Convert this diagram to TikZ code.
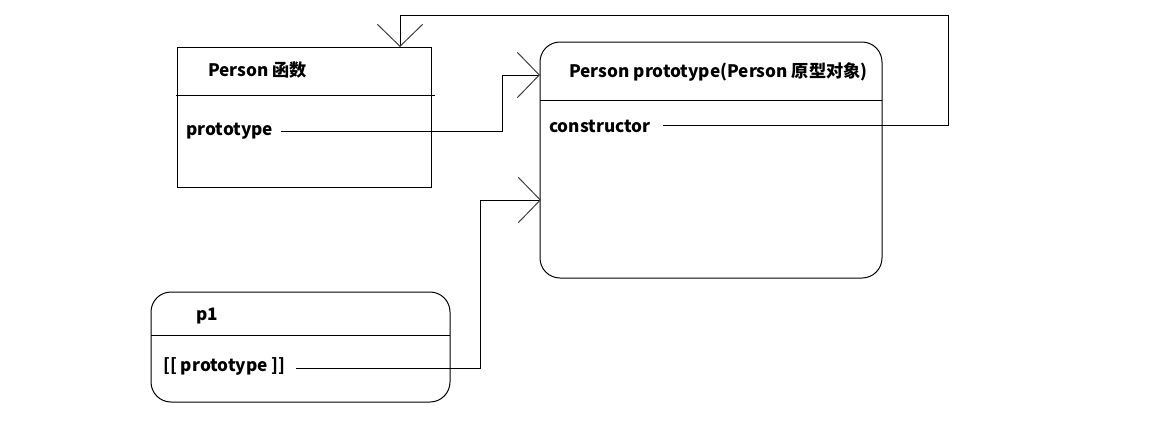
\documentclass[tikz,border=0pt]{standalone}
\usepackage{fontspec}
\setmainfont{Noto Sans CJK SC}
\usetikzlibrary{arrows.meta}
\tikzset{
  box/.style={draw, line width=0.75pt, inner sep=0pt},
  lbl/.style={anchor=west, inner sep=0pt, font=\fontsize{12.9}{15}\selectfont\bfseries},
  conn/.style={line width=0.75pt, -{Straight Barb[length=16.5pt, width=34pt, line width=0.75pt, color=black!75]}},
  sep/.style={line width=0.75pt}
}
\begin{document}
\begin{tikzpicture}[x=0.75pt, y=-0.75pt]
\useasboundingbox[fill=white] (0,0) rectangle (1158,444);
% boxes
\node[box, minimum width=190.5pt, minimum height=105pt] (pf) at (304,117) {};
\node[box, rounded corners=15pt, minimum width=256.5pt, minimum height=177pt] (pp) at (711,160) {};
\node[box, rounded corners=15pt, minimum width=224.25pt, minimum height=82.5pt] (p1) at (300.5,347) {};
% dividers
\draw[sep] (176,95) -- (435,95);
\draw[sep] (540,100) -- (882,100);
\draw[sep] (151,335) -- (450,335);
% labels
\node[lbl] (pft) at (208,70) {Person 函数};
\node[lbl] (pfp) at (186,131) {prototype};
\node[lbl] (ppt) at (569,72) {Person prototype(Person 原型对象)};
\node[lbl] (ppc) at (549,126) {constructor};
\node[lbl] (p1t) at (196,316) {p1};
\node[lbl] (p1p) at (163,366) {[[ prototype ]]};
% connector coordinates
\coordinate (a1) at (281,131);
\coordinate (k1) at (502,75);
\coordinate (t1) at (540,75);
\coordinate (a2) at (663,125);
\coordinate (k2) at (948,15);
\coordinate (t2) at (400,47);
\coordinate (a3) at (296,368);
\coordinate (k3) at (480,200);
\coordinate (t3) at (541,200);
% connectors
\draw[conn] (a1) -| (k1) -- (t1);
\draw[conn] (a2) -| (k2) -| (t2);
\draw[conn] (a3) -| (k3) -- (t3);
\end{tikzpicture}
\end{document}
